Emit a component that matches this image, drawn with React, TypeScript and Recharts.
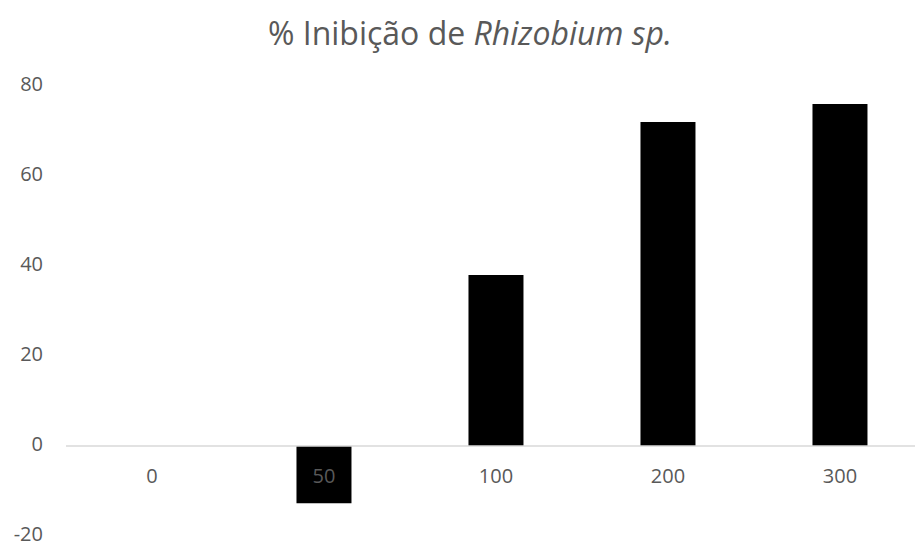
import { ComposedChart, Bar, XAxis, YAxis, ReferenceLine } from 'recharts'

const doses = ['0', '50', '100', '200', '300']
const inhibition = [0, -12.7, 38, 72, 76]
const yTicks = [-20, 0, 20, 40, 60, 80]

const data = doses.map((d, i) => ({ dose: d, value: inhibition[i] }))

const gray = '#595959'
const font = '"Open Sans", sans-serif'

function DoseTick(props: any) {
  const { x, y, payload } = props
  return (
    <text x={x} y={y - 69} textAnchor="middle" dominantBaseline="central" fill={gray} fontSize={20} fontFamily={font}>
      {payload.value}
    </text>
  )
}

export default function App() {
  return (
    <div style={{ position: 'absolute', left: 0, top: 0, width: 915, height: 545, background: '#fff', overflow: 'hidden' }}>
      <div style={{ position: 'absolute', left: 0, top: 11, width: 940, textAlign: 'center', fontFamily: font, fontSize: 32, color: gray, lineHeight: 'normal' }}>
        % Inibição de <i>Rhizobium sp.</i>
      </div>
      <ComposedChart
        width={915}
        height={545}
        data={data}
        margin={{ top: 86, right: -11, bottom: 8, left: 0 }}
        barCategoryGap="34%"
        style={{ overflow: 'visible' }}
      >
        <XAxis dataKey="dose" axisLine={false} tickLine={false} height={1} tick={<DoseTick />} interval={0} />
        <YAxis
          domain={[-20, 80]}
          ticks={yTicks}
          interval={0}
          width={66}
          axisLine={false}
          tickLine={false}
          tickSize={0}
          tickMargin={23}
          tick={{ fill: gray, fontSize: 20, fontFamily: font, dy: -2 }}
        />
        <ReferenceLine y={0} stroke="#d9d9d9" strokeWidth={1.5} />
        <Bar dataKey="value" fill="#000000" isAnimationActive={false} />
      </ComposedChart>
    </div>
  )
}
